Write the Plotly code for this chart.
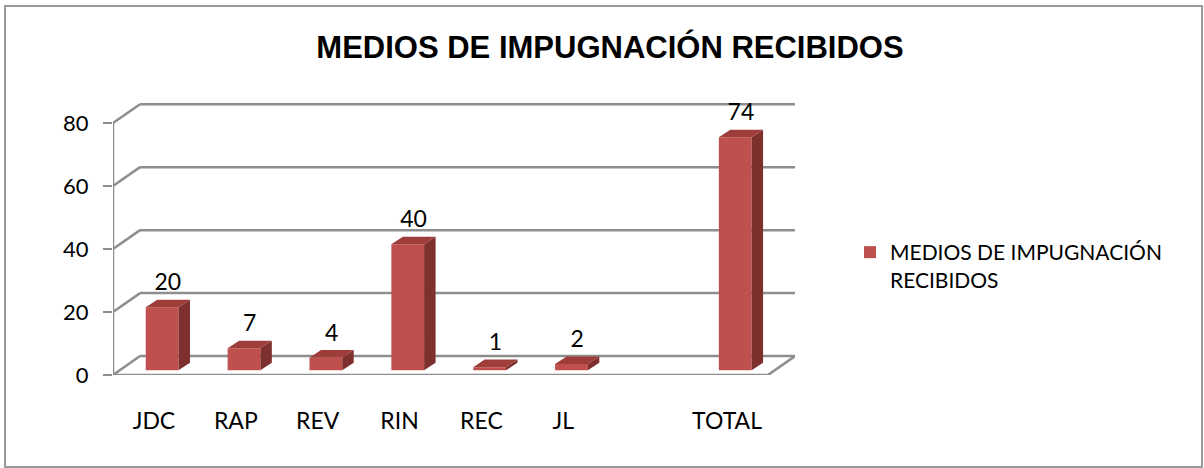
import plotly.graph_objects as go

# ---- data ----
categories = ["JDC", "RAP", "REV", "RIN", "REC", "JL", "", "TOTAL"]
values = [20, 7, 4, 40, 1, 2, None, 74]
series_name = "MEDIOS DE IMPUGNACIÓN RECIBIDOS"
y_ticks = [0, 20, 40, 60, 80]

# ---- geometry (pixel layout of the plot area) ----
W, H = 1204, 468
L_PX, R_PX = 113, 795
T_PX, B_PX = 101, 375
X_MAX = 8.33
Y_MAX = 87
DEPTH_X, DEPTH_Y = 0.33, 6.0      # back-wall offset in data units
BAR_DX, BAR_DY = 0.14, 2.4        # bar depth in data units
BAR_SHIFT, BAR_W, BAR_BASE = 0.1, 0.4, 1.5
LABEL_GAP = 1.2

FRONT = "#C0504D"
SIDE = "#7E302E"
TOP = "#9E3D3A"
GRID = "#8E8E8E"
FONT = "Lato"

n = len(categories)
xs = [i + 0.5 + BAR_SHIFT for i in range(n)]
bx, by = [], []
for x, v in zip(xs, values):
    if v is not None:
        bx.append(x); by.append(v)

fig = go.Figure()

# front faces
fig.add_trace(go.Bar(
    x=bx, y=by, base=BAR_BASE, width=BAR_W,
    marker=dict(color=FRONT, line=dict(width=0)),
    name=series_name.replace("IMPUGNACIÓN ", "IMPUGNACIÓN<br>"),
    showlegend=True, hoverinfo="skip",
))

# side faces and top faces (derived from values)
sx, sy, tx, ty = [], [], [], []
for x, v in zip(bx, by):
    x0, x1 = x - BAR_W / 2, x + BAR_W / 2
    b, t = BAR_BASE, BAR_BASE + v
    sx += [x1, x1 + BAR_DX, x1 + BAR_DX, x1, x1, None]
    sy += [b, b + BAR_DY, t + BAR_DY, t, b, None]
    tx += [x0, x1, x1 + BAR_DX, x0 + BAR_DX, x0, None]
    ty += [t, t, t + BAR_DY, t + BAR_DY, t, None]
fig.add_trace(go.Scatter(x=sx, y=sy, fill="toself", fillcolor=SIDE, mode="lines",
                         line=dict(width=0, color=SIDE), showlegend=False, hoverinfo="skip"))
fig.add_trace(go.Scatter(x=tx, y=ty, fill="toself", fillcolor=TOP, mode="lines",
                         line=dict(width=0, color=TOP), showlegend=False, hoverinfo="skip"))

# data labels
fig.add_trace(go.Scatter(
    x=[x + BAR_DX / 2 for x in bx], y=[v + BAR_BASE + BAR_DY + LABEL_GAP for v in by],
    mode="text", text=[str(v) for v in by], textposition="top center",
    textfont=dict(family=FONT, size=23, color="#000000"),
    showlegend=False, hoverinfo="skip", cliponaxis=False,
))

shapes = []
gl = dict(color=GRID, width=2.5)
for v in y_ticks:
    shapes.append(dict(type="line", xref="x", yref="y", x0=DEPTH_X, x1=8 + DEPTH_X,
                       y0=v + DEPTH_Y, y1=v + DEPTH_Y, line=gl, layer="below"))
    shapes.append(dict(type="line", xref="x", yref="y", x0=0, x1=DEPTH_X,
                       y0=v, y1=v + DEPTH_Y, line=gl, layer="below"))
shapes.append(dict(type="line", xref="x", yref="y", x0=0, x1=8, y0=0, y1=0, line=gl, layer="below"))
shapes.append(dict(type="line", xref="x", yref="y", x0=8, x1=8 + DEPTH_X, y0=0, y1=DEPTH_Y,
                   line=gl, layer="below"))
shapes.append(dict(type="line", xref="x", yref="y", x0=0, x1=0, y0=0, y1=y_ticks[-1], line=gl, layer="below"))
for i in range(n + 1):
    shapes.append(dict(type="line", xref="x", yref="y", x0=i, x1=i, ysizemode="pixel",
                       yanchor=0, y0=0, y1=-8, line=dict(color=GRID, width=2)))

pw, ph = R_PX - L_PX, B_PX - T_PX
def px_x(p): return (p - L_PX) / pw
def px_y(p): return (B_PX - p) / ph
shapes.append(dict(type="rect", xref="paper", yref="paper",
                   x0=px_x(5), x1=px_x(1202), y0=px_y(467), y1=px_y(6),
                   line=dict(color="#9A9A9A", width=2), layer="below"))

fig.update_layout(
    width=W, height=H,
    margin=dict(l=L_PX, r=W - R_PX, t=T_PX, b=H - B_PX, pad=0),
    paper_bgcolor="white", plot_bgcolor="white",
    shapes=shapes,
    title=dict(text="<b>" + series_name + "</b>", x=610 / W, xanchor="center",
               y=1 - 47 / H, yanchor="middle", yref="container",
               font=dict(family="Liberation Sans", size=31, color="#000000")),
    xaxis=dict(range=[0, X_MAX], tickmode="array", tickvals=[i + 0.5 for i in range(n)],
               ticktext=categories, showgrid=False, zeroline=False, showline=False,
               ticks="", ticklabelstandoff=30,
               tickfont=dict(family=FONT, size=23, color="#000000")),
    yaxis=dict(range=[0, Y_MAX], tickmode="array", tickvals=y_ticks, showgrid=False,
               zeroline=False, showline=False, ticks="outside", ticklen=9,
               tickcolor=GRID, tickwidth=2, ticklabelstandoff=10,
               tickfont=dict(family=FONT, size=22, color="#000000")),
    legend=dict(x=px_x(850), y=px_y(232), xanchor="left", yanchor="top", valign="top",
                font=dict(family=FONT, size=21, color="#000000"), bgcolor="rgba(0,0,0,0)"),
    showlegend=True,
)

fig.write_html("out.html", config={"displayModeBar": False},
               post_script="document.body.style.margin='0';")
